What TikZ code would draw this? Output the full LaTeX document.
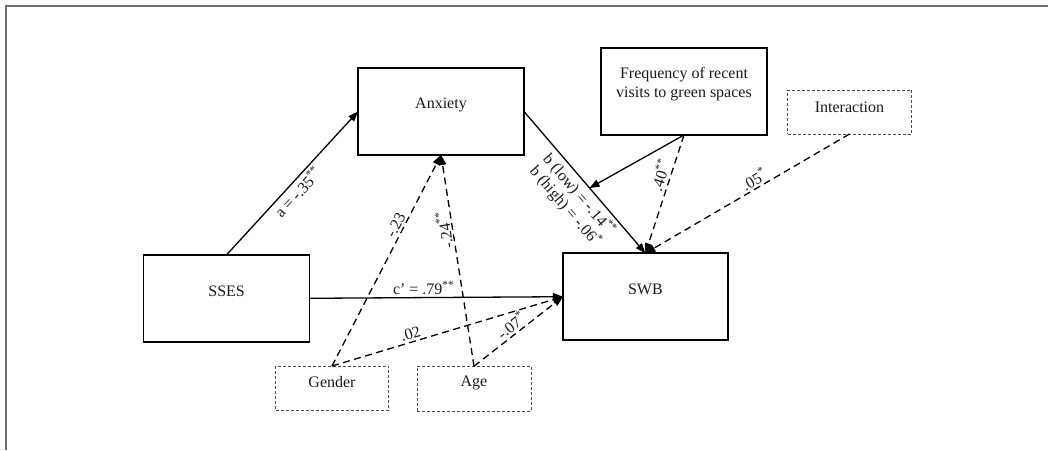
\documentclass[tikz,border=0pt]{standalone}
\usepackage{fontspec}
\setmainfont{Liberation Serif}
\usetikzlibrary{arrows.meta,calc}
\definecolor{framegray}{HTML}{707070}
\definecolor{inkc}{HTML}{1A1A1A}
\begin{document}
\begin{tikzpicture}[x=1pt,y=-1pt,
  box/.style={draw=black, line width=1.5pt, inner sep=0pt, outer sep=0pt},
  dbox/.style={draw=black!70, line width=0.8pt, dash pattern=on 3pt off 2pt, inner sep=0pt, outer sep=0pt},
  arr/.style={draw=black, line width=1.3pt, -{Triangle[length=10pt,width=7.5pt]}},
  darr/.style={arr, dash pattern=on 7pt off 4.5pt},
  lbl/.style={font=\fontsize{16}{18}\selectfont, text=inkc, inner sep=2pt},
  txt/.style={font=\fontsize{16}{19}\selectfont, text=inkc, inner sep=0pt}
]
\useasboundingbox (0,0) rectangle (1048,450);
\draw[framegray, line width=2pt] (5.5,450) -- (5.5,5.5) -- (1048,5.5);

% nodes
\node[box, minimum width=166pt, minimum height=87pt,
      label={[txt,yshift=7pt]center:Anxiety}] (anx) at (441,111.5) {};
\node[box, minimum width=166pt, minimum height=87pt,
      label={[txt,align=center,yshift=7pt]center:{Frequency of recent\\visits to green spaces}}] (freq) at (684,91.5) {};
\node[dbox, minimum width=124pt, minimum height=44pt,
      label={[txt,yshift=5pt]center:Interaction}] (inter) at (849.5,112) {};
\node[box, minimum width=166pt, minimum height=87pt,
      label={[txt,yshift=7pt]center:SSES}] (sses) at (226.6,298.3) {};
\node[box, minimum width=165pt, minimum height=87pt,
      label={[txt,yshift=7pt]center:SWB}] (swb) at (645.4,296.7) {};
\node[dbox, minimum width=113pt, minimum height=44pt,
      label={[txt,yshift=6pt]center:Gender}] (gender) at (332,388) {};
\node[dbox, minimum width=114pt, minimum height=45pt,
      label={[txt,yshift=6pt]center:Age}] (age) at (474,388.7) {};

% solid paths
\draw[arr] (sses.north) -- node[lbl, sloped, below, pos=0.485] {a = -.35\textsuperscript{**}} (anx.west);
\draw[arr] (anx.east) -- node[lbl, sloped, below, pos=0.53, align=center, inner sep=3pt]
  {b (low) = -.14\textsuperscript{**}\\b (high) = -.06\textsuperscript{*}} (swb.north);
\coordinate (mod) at ($(anx.east)!0.54!(swb.north)$);
\draw[arr] (freq.south) -- (mod);
\draw[arr] (sses.east) -- node[lbl, above, pos=0.45] {c’ = .79\textsuperscript{**}} (swb.west);

% dashed paths
\draw[darr] (freq.south) -- node[lbl, sloped, above, pos=0.365, inner sep=3pt] {.40\textsuperscript{**}} (swb.north);
\draw[darr] (inter.south) -- node[lbl, sloped, above, pos=0.445] {.05\textsuperscript{*}} (swb.north);
\draw[darr] (gender.north) -- node[lbl, sloped, above, pos=0.65] {-.23} (anx.south);
\draw[darr] (age.north) -- node[lbl, sloped, allow upside down, above=-1pt, pos=0.65] {-.24\textsuperscript{**}} (anx.south);
\draw[darr] (gender.north) -- node[lbl, sloped, above, pos=0.35] {.02} (swb.west);
\draw[darr] (age.north) -- node[lbl, sloped, above, pos=0.48] {-.07\textsuperscript{*}} (swb.west);
\end{tikzpicture}
\end{document}
